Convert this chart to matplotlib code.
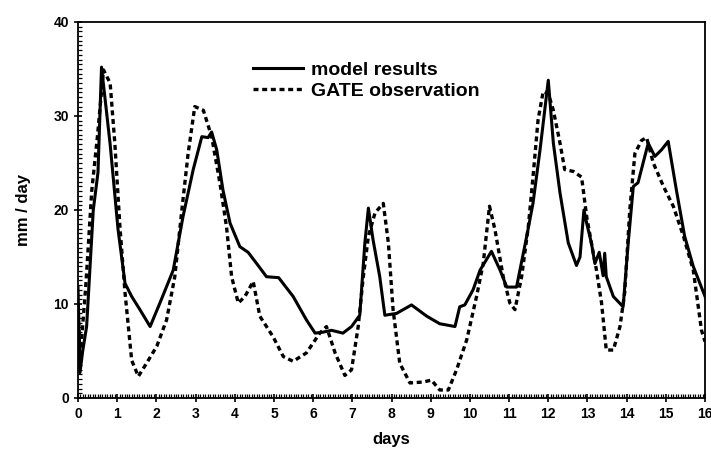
import matplotlib
matplotlib.use("Agg")
import matplotlib.pyplot as plt
from matplotlib.ticker import MultipleLocator

plt.rcParams['font.family'] = ['Liberation Sans', 'DejaVu Sans']

# model results (solid line)
model_day = [0.0, 0.05, 0.12, 0.22, 0.39, 0.51, 0.6, 0.82, 1.02, 1.2, 1.37, 1.58, 1.84,
             2.09, 2.43, 2.68, 2.94, 3.16, 3.32, 3.41, 3.54, 3.7, 3.88, 4.13, 4.34, 4.56,
             4.81, 5.12, 5.49, 5.83, 6.05, 6.25, 6.47, 6.76, 6.98, 7.19, 7.32, 7.41, 7.53,
             7.7, 7.83, 8.13, 8.51, 8.9, 9.23, 9.62, 9.74, 9.87, 10.08, 10.26, 10.55, 10.77,
             10.94, 11.19, 11.45, 11.61, 11.79, 12.0, 12.13, 12.3, 12.51, 12.72, 12.81,
             12.91, 12.98, 13.1, 13.19, 13.3, 13.4, 13.44, 13.48, 13.66, 13.91, 14.04,
             14.17, 14.29, 14.55, 14.72, 14.89, 15.06, 15.27, 15.48, 15.7, 16.0]
model_val = [11.8, 2.7, 5.0, 7.6, 20.0, 24.0, 35.2, 27.0, 18.0, 12.2, 10.8, 9.4, 7.6,
             10.1, 13.6, 19.3, 24.3, 27.8, 27.7, 28.3, 26.4, 22.1, 18.6, 16.1, 15.5, 14.3,
             12.9, 12.8, 10.8, 8.3, 6.9, 7.0, 7.2, 6.9, 7.6, 8.8, 16.5, 20.2, 16.8,
             12.9, 8.8, 9.0, 9.9, 8.7, 7.9, 7.6, 9.7, 9.9, 11.5, 13.6, 15.6, 13.6,
             11.8, 11.8, 17.2, 20.7, 26.4, 33.8, 27.1, 21.8, 16.5, 14.1, 15.0,
             20.0, 18.6, 16.5, 14.3, 15.5, 13.0, 15.4, 12.9, 10.8, 9.7, 16.5,
             22.5, 22.9, 27.1, 25.7, 26.4, 27.3, 22.1, 17.2, 14.0, 10.8]

# GATE observation (dashed line)
gate_day = [0.0, 0.05, 0.2, 0.35, 0.5, 0.65, 0.82, 0.94, 1.07, 1.2, 1.37, 1.54, 1.75,
            2.01, 2.26, 2.47, 2.65, 2.81, 2.98, 3.2, 3.41, 3.62, 3.79, 3.92, 4.09, 4.26,
            4.47, 4.64, 4.98, 5.24, 5.49, 5.83, 6.17, 6.34, 6.56, 6.81, 6.98, 7.15, 7.28,
            7.41, 7.58, 7.79, 7.92, 8.04, 8.21, 8.47, 8.81, 9.02, 9.23, 9.45, 9.66, 9.92,
            10.17, 10.34, 10.5, 10.64, 10.85, 11.02, 11.15, 11.32, 11.49, 11.61, 11.74,
            11.87, 12.0, 12.13, 12.3, 12.42, 12.64, 12.85, 12.98, 13.1, 13.23, 13.36,
            13.48, 13.66, 13.83, 13.95, 14.08, 14.21, 14.38, 14.51, 14.68, 14.94, 15.19,
            15.45, 15.7, 15.91, 16.0]
gate_val = [10.0, 4.0, 12.0, 22.0, 28.0, 34.9, 33.5, 27.1, 18.2, 11.2, 4.0, 2.3, 3.7,
            5.5, 8.3, 12.9, 20.0, 26.0, 31.0, 30.6, 27.8, 22.9, 18.2, 12.9, 10.1, 10.8,
            12.4, 8.7, 6.5, 4.4, 3.9, 4.8, 6.9, 7.6, 4.8, 2.4, 3.0, 7.6, 12.9,
            17.2, 19.7, 20.7, 16.5, 9.4, 3.7, 1.6, 1.7, 1.9, 0.85, 0.85, 3.0, 6.2,
            10.8, 14.3, 20.4, 17.9, 12.9, 10.1, 9.4, 12.9, 18.2, 23.5, 29.6,
            32.6, 32.4, 30.6, 27.1, 24.3, 24.1, 23.5, 19.3, 16.5, 13.6, 10.1,
            5.1, 5.1, 7.6, 11.2, 20.0, 26.0, 27.4, 27.7, 25.0, 22.5, 20.4,
            17.2, 13.6, 7.2, 6.0]

x_ticks = list(range(0, 17))
y_ticks = [0, 10, 20, 30, 40]

fig = plt.figure(figsize=(7.11, 4.55), dpi=100)
ax = fig.add_axes([0.1097, 0.1253, 0.8819, 0.8264])

ax.plot(model_day, model_val, color='black', lw=2.2, label='model results')
ax.plot(gate_day, gate_val, color='black', lw=2.4, linestyle=(0, (1.5, 1.1)),
        label='GATE observation')

ax.set_xlim(0, 16)
ax.set_ylim(0, 40)
ax.set_xticks(x_ticks)
ax.set_yticks(y_ticks)
ax.xaxis.set_minor_locator(MultipleLocator(1 / 16))
ax.yaxis.set_minor_locator(MultipleLocator(0.5))
ax.tick_params(which='major', direction='inout', length=6, width=1.2, labelsize=10)
ax.tick_params(which='minor', direction='in', length=3, width=0.9)
for lab in ax.get_xticklabels() + ax.get_yticklabels():
    lab.set_fontweight('bold')
for sp in ax.spines.values():
    sp.set_linewidth(1.3)

ax.set_xlabel('days', fontsize=12, fontweight='bold', labelpad=8)
ax.set_ylabel('mm / day', fontsize=12, fontweight='bold', labelpad=16)

leg = ax.legend(loc='upper left', bbox_to_anchor=(0.279, 0.895), frameon=False,
                fontsize=14, handlelength=2.6, handletextpad=0.4, labelspacing=0.15,
                borderpad=0, borderaxespad=0)
for t in leg.get_texts():
    t.set_fontweight('bold')

fig.savefig('out.png', dpi=100)
